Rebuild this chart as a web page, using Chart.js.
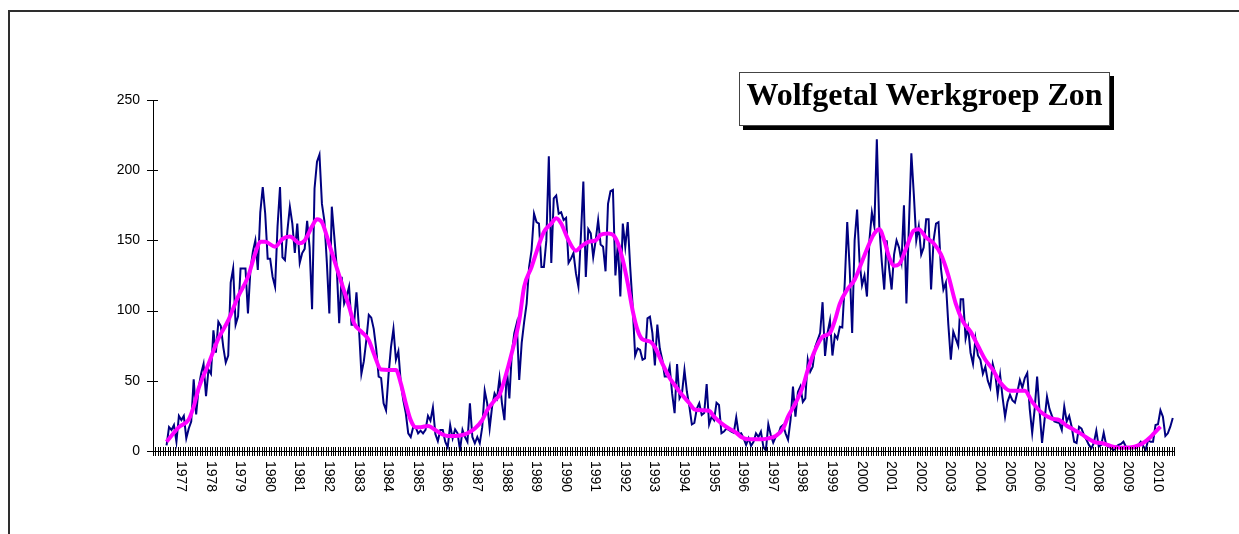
<!DOCTYPE html>
<html>
<head>
<meta charset="utf-8">
<script src="https://cdn.jsdelivr.net/npm/chart.js@4.4.1/dist/chart.umd.min.js"></script>
<style>
  html, body { margin: 0; padding: 0; background: #fff; overflow: hidden; }
  #frame {
    position: absolute; left: 8px; top: 10px; width: 1300px; height: 600px;
    border: 2px solid #2e2e2e; box-sizing: border-box;
  }
  #wrap { position: absolute; left: 0; top: 0; width: 1239px; height: 534px; }
  #title {
    position: absolute; left: 739px; top: 72px; width: 371px; height: 54px;
    box-sizing: border-box; border: 1px solid #444; background: #fff;
    box-shadow: 4px 4px 0 #000;
    font-family: "Liberation Serif", "Times New Roman", serif; font-weight: bold;
    font-size: 32px; line-height: 43px; text-align: center; color: #000;
    white-space: nowrap;
  }
</style>
</head>
<body>
<div id="frame"></div>
<div id="wrap"><canvas id="chart" width="1239" height="534"></canvas></div>
<div id="title">Wolfgetal Werkgroep Zon</div>
<script>
// monthly categories, Jan 1976 .. Jun 2010
const months = [];
for (let y = 1976; y <= 2010; y++) {
    for (let m = 1; m <= 12; m++) {
        if (months.length < 414) months.push(y + "-" + String(m).padStart(2, "0"));
    }
}

// year labels shown under the axis (placed at January of that year)
const tickYears = [1977, 1978, 1979, 1980, 1981, 1982, 1983, 1984, 1985, 1986, 1987, 1988,
    1989, 1990, 1991, 1992, 1993, 1994, 1995, 1996, 1997, 1998, 1999, 2000, 2001, 2002,
    2003, 2004, 2005, 2006, 2007, 2008, 2009, 2010];

// monthly Wolf numbers, one row per year
const wolfMonthly = [
    null, null, null, null, null, 4, 17, 15, 18.5, 6.6, 25, 22,          // 1976
    25, 9, 16, 21, 51, 26, 45, 55, 62, 39, 58, 55,                        // 1977
    86, 70, 92, 89, 74, 63, 68, 120, 130, 90, 96, 130,                    // 1978
    130, 130, 98, 129, 142, 150, 129, 170, 188, 169, 137, 137,            // 1979
    124, 117, 160, 188, 138, 136, 157, 174, 162, 141, 162, 134,           // 1980
    141, 144, 164, 145, 101, 187, 206, 211, 176, 164, 134, 98,            // 1981
    174, 153, 131, 91, 124, 105, 110, 117, 90, 90, 113, 88,               // 1982
    55, 64, 79, 97, 95, 87, 73, 53, 52, 34, 29, 54,                       // 1983
    74, 87, 65, 71, 48, 36, 27, 12.6, 10, 17, 17, 12.6,                   // 1984
    14.5, 12.6, 15, 25, 21.6, 31, 12, 7, 15, 15, 6.6, 2.6,                // 1985
    18.5, 9, 15.4, 12.6, 0.7, 15, 10, 6.6, 34, 10, 5.5, 10,               // 1986
    5.5, 17, 43, 34, 16, 31.6, 41, 37.5, 52, 34, 22, 58,                  // 1987
    37.5, 70, 84, 91, 50.6, 77, 92, 105, 131, 143, 169, 163,              // 1988
    162, 131, 131, 150, 210, 134, 180, 182, 169, 170, 164.5, 166,         // 1989
    134, 137, 141, 126.5, 117, 153, 192, 124, 158, 155, 138, 150,         // 1990
    164.5, 147, 145.5, 128, 176, 185, 186, 125, 148, 110, 162, 145.5,     // 1991
    163, 131, 103, 68, 73, 72, 65, 66, 94.5, 95.7, 84, 61,                // 1992
    90, 73, 65, 53, 53, 60, 41, 27, 62, 37.5, 41, 57.7,                   // 1993
    42, 31.6, 19, 20, 30, 34, 25.6, 27, 47.7, 19, 24.5, 22,               // 1994
    34.4, 32.8, 12.6, 13.8, 16, 15, 13.8, 13, 24, 12, 12.6, 9,            // 1995
    4.3, 9, 3.6, 6.6, 12.6, 10, 13.8, 3, 0.2, 19, 11.4, 6,                // 1996
    10, 11.4, 17, 18.5, 12.6, 8, 22, 45.8, 24.5, 42, 46, 35,              // 1997
    37.5, 65, 56.5, 60, 74, 79, 84, 106, 67.7, 84, 93, 68,                // 1998
    82.6, 80, 88.5, 88, 120, 163, 130, 84, 150, 172, 135, 118,            // 1999
    125, 110, 150, 170, 160, 222, 160, 135, 115, 150, 130, 115,           // 2000
    140, 150, 145, 135, 175, 105, 160, 212, 183, 150, 160, 140,           // 2001
    145, 165, 165, 115, 150, 162, 163, 130, 115, 120, 90, 65,             // 2002
    85, 80, 75, 108, 108, 80, 88, 70, 62, 80, 68, 65,                     // 2003
    55, 60, 50, 45, 62, 55, 40, 54, 38, 24.4, 35, 40,                     // 2004
    36, 34.4, 42, 50.6, 45, 52, 55.5, 30, 12.8, 30, 53, 28,               // 2005
    5.7, 22, 38.7, 30, 25, 21, 20.5, 20, 15, 31.6, 21, 25,                // 2006
    17.3, 6.6, 5.7, 17.3, 16, 11.4, 8, 4.3, 1.9, 5.7, 14.5, 3,            // 2007
    4.3, 13, 4.3, 3, 2, 0.7, 3, 4.3, 5, 6.6, 3, 1.9,                      // 2008
    1.9, 1.9, 1.9, 4.3, 6.6, 3.6, 0.7, 7.8, 6.6, 6.6, 18.5, 19,           // 2009
    29, 24.4, 10.7, 12.6, 17.3, 23.5                                      // 2010
];

// smoothed curve: [month index, value]
const smoothPoints = [
    [5, 6.6], [10, 17], [14, 22.5], [16, 31.6], [18, 44.6], [22, 62], [26, 80], [30, 93],
    [34, 110], [38, 124], [41, 141], [43, 149], [45, 149], [49, 145.5], [52, 151], [55, 152.7],
    [59, 148], [61, 150], [64, 160], [66, 165], [68, 163], [71, 147], [73, 136], [76, 119.4],
    [79, 103], [81, 91], [84, 85], [87, 79], [89, 69.6], [92, 58], [95, 57.7], [98, 57.7],
    [100, 48], [102, 34], [104, 22], [106, 17], [108, 17], [111, 17.8], [114, 15], [116, 12.6],
    [119, 10.7], [122, 10.7], [125, 11.4], [127, 12.6], [130, 16], [133, 22], [135, 29], [138, 36],
    [140, 40], [142, 50.6], [145, 70], [148, 93], [150, 117], [153, 131], [156, 147], [158, 156],
    [161, 162], [163, 165.7], [165, 162], [168, 150], [171, 142.7], [173, 145.5], [176, 149], [179, 150],
    [181, 154], [184, 155], [186, 154], [188, 148], [190, 136], [192, 119.4], [194, 100], [196, 86],
    [198, 79.5], [201, 78], [203, 74], [206, 62.4], [209, 52], [211, 47], [214, 40], [217, 34],
    [219, 29.7], [222, 29], [225, 28.7], [227, 24.5], [230, 19.7], [233, 16], [236, 13], [238, 10],
    [241, 8.3], [244, 8.3], [246, 8.3], [249, 9], [252, 10.7], [255, 16], [257, 24.5], [260, 34],
    [263, 45.8], [265, 57.7], [268, 72], [271, 81.4], [274, 84], [276, 93], [278, 105], [281, 115],
    [284, 122], [287, 135], [290, 148], [292, 155], [294, 158], [296, 150], [298, 138], [300, 132],
    [302, 133], [305, 145], [308, 157], [310, 158], [313, 152], [316, 148], [319, 140], [322, 125],
    [325, 105], [328, 92], [331, 85], [334, 75], [337, 65], [340, 58], [343, 49], [347, 43],
    [350, 43], [353, 43], [356, 35], [360, 27], [364, 23], [367, 22], [370, 18], [373, 15],
    [376, 12], [379, 8.5], [382, 6], [384, 5.7], [388, 3.5], [392, 2.4], [395, 2.5], [397, 2.8],
    [399, 4], [401, 5.7], [404, 10], [406, 13.7], [408, 17.3]
];

const yTicks = [0, 50, 100, 150, 200, 250];

// tick marks that cross the axes, and the year labels written top-to-bottom
const axisDecor = {
    id: "axisDecor",
    afterDraw(chart) {
        const ctx = chart.ctx;
        const xs = chart.scales.x;
        const ys = chart.scales.y;
        const bottom = ys.bottom;
        const left = xs.left;
        ctx.save();
        ctx.strokeStyle = "#000";
        ctx.lineWidth = 1;
        ctx.beginPath();
        const n = months.length;
        const step = (xs.right - xs.left) / n;
        for (let k = 0; k <= n; k++) {
            const x = Math.round(left + k * step) + 0.5;
            ctx.moveTo(x, bottom - 4);
            ctx.lineTo(x, bottom + 5);
        }
        yTicks.forEach(v => {
            const y = Math.round(ys.getPixelForValue(v)) + 0.5;
            ctx.moveTo(left - 6, y);
            ctx.lineTo(left + 5, y);
        });
        ctx.stroke();

        ctx.fillStyle = "#000";
        ctx.font = "14px 'Liberation Sans', Arial, sans-serif";
        ctx.textAlign = "left";
        ctx.textBaseline = "middle";
        tickYears.forEach(yr => {
            const x = xs.getPixelForValue((yr - 1976) * 12) - 3;
            ctx.save();
            ctx.translate(x, bottom + 10);
            ctx.rotate(Math.PI / 2);
            ctx.fillText(String(yr), 0, 0);
            ctx.restore();
        });
        ctx.restore();
    }
};

const ctx = document.getElementById("chart").getContext("2d");
new Chart(ctx, {
    type: "line",
    data: {
        labels: months,
        datasets: [
            {
                label: "Gladgestreken",
                data: smoothPoints.map(p => ({ x: months[p[0]], y: p[1] })),
                borderColor: "#FF00FF",
                borderWidth: 4,
                pointRadius: 0,
                cubicInterpolationMode: "monotone",
                spanGaps: true,
                fill: false,
            },
            {
                label: "Wolfgetal",
                data: wolfMonthly,
                borderColor: "#000080",
                borderWidth: 2,
                pointRadius: 0,
                tension: 0,
                fill: false,
            },
        ],
    },
    options: {
        responsive: false,
        devicePixelRatio: 1,
        animation: false,
        layout: { padding: { left: 0, top: 100, right: 65, bottom: 0 } },
        plugins: {
            legend: { display: false },
            tooltip: { enabled: false },
        },
        scales: {
            x: {
                type: "category",
                offset: true,
                grid: { display: false, drawTicks: false },
                ticks: { display: false },
                border: { color: "#000", width: 1 },
                afterFit: s => { s.height = 83; },
            },
            y: {
                min: 0,
                max: 250,
                grid: { display: false, drawTicks: false },
                border: { color: "#000", width: 1 },
                ticks: {
                    stepSize: 50,
                    color: "#000",
                    padding: 13,
                    font: { family: "'Liberation Sans', Arial, sans-serif", size: 14 },
                },
                afterFit: s => { s.width = 153; },
            },
        },
    },
    plugins: [axisDecor],
});
</script>
</body>
</html>
